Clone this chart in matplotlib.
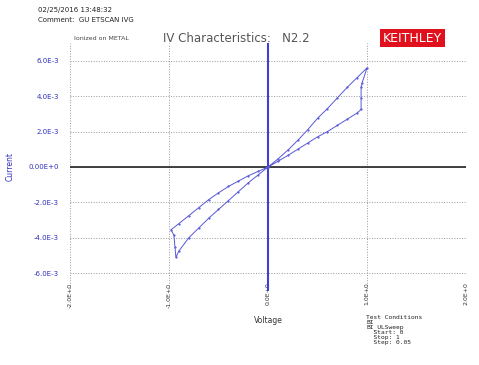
import matplotlib.pyplot as plt, numpy as np

# sweep: 0 -> 1 V -> 0 -> -1 V -> 0, current in A
voltage = [0.0, 0.1, 0.2, 0.3, 0.4, 0.5, 0.6, 0.7, 0.8, 0.9, 1.0,
           0.95, 0.94, 0.94, 0.94,
           0.9, 0.8, 0.7, 0.6, 0.5, 0.4, 0.3, 0.2, 0.1, 0.0,
           -0.1, -0.2, -0.3, -0.4, -0.5, -0.6, -0.7, -0.8, -0.9, -0.93,
           -0.94, -0.95, -0.98,
           -0.9, -0.8, -0.7, -0.6, -0.5, -0.4, -0.3, -0.2, -0.1, 0.0]
current_mA = [0.0, 0.45, 0.95, 1.5, 2.1, 2.75, 3.3, 3.9, 4.5, 5.05, 5.6,
              4.75, 4.5, 3.9, 3.25,
              3.05, 2.7, 2.35, 2.0, 1.7, 1.35, 1.0, 0.65, 0.32, 0.0,
              -0.45, -0.9, -1.4, -1.9, -2.4, -2.9, -3.45, -4.0, -4.75, -5.1,
              -4.5, -3.85, -3.55,
              -3.2, -2.75, -2.3, -1.85, -1.46, -1.1, -0.8, -0.5, -0.25, 0.0]
current = np.array(current_mA) * 1e-3

x_ticks = [-2.0, -1.0, 0.0, 1.0, 2.0]
x_labels = ["-2.0E+0", "-1.0E+0", "0.0E+0", "1.0E+0", "2.0E+0"]
y_ticks = [6e-3, 4e-3, 2e-3, 0.0, -2e-3, -4e-3, -6e-3]
y_labels = ["6.0E-3", "4.0E-3", "2.0E-3", "0.00E+0", "-2.0E-3", "-4.0E-3", "-6.0E-3"]

fig = plt.figure(figsize=(4.79, 3.65), dpi=100)
ax = fig.add_axes([0.146, 0.203, 0.827, 0.679])
ax.set_xlim(-2, 2)
ax.set_ylim(-7e-3, 7e-3)

for s in ax.spines.values():
    s.set_visible(False)

ax.set_xticks(x_ticks)
ax.set_xticklabels(x_labels, rotation=90, fontsize=4.5, color='#333333')
ax.set_yticks(y_ticks)
ax.set_yticklabels(y_labels, fontsize=5, color='#3030c0')
ax.tick_params(axis='x', length=0, pad=-6)
ax.tick_params(axis='y', length=0, pad=8)
ax.grid(True, linestyle=':', color='#999999', linewidth=0.7)

ax.axhline(0, color='#222222', linewidth=1.2)
ax.axvline(0, color='#4040d0', linewidth=1.5)

ax.plot(voltage, current, color='#5858d8', linewidth=0.7, marker='.', markersize=1.2)

ax.set_ylabel("Current", fontsize=5.5, color='#3030c0', labelpad=10)
ax.set_xlabel("Voltage", fontsize=5.5, color='#333333', labelpad=6)

fig.text(0.08, 0.972, "02/25/2016 13:48:32", fontsize=5, color='#222222', va='center')
fig.text(0.08, 0.945, "Comment:  GU ETSCAN IVG", fontsize=5, color='#222222', va='center')
fig.text(0.155, 0.895, "Ionized on METAL", fontsize=4.5, color='#444444', va='center')
fig.text(0.34, 0.895, "IV Characteristics:   N2.2", fontsize=8.5, color='#555555', va='center')
fig.text(0.861, 0.895, "KEITHLEY", fontsize=9, color='white', va='center', ha='center',
         bbox=dict(boxstyle='square,pad=0.2', facecolor='#e0101c', edgecolor='none'))

fig.text(0.765, 0.138, "Test Conditions\nBI\nBI_ULSweep\n  Start: 0\n  Stop: 1\n  Step: 0.05",
         fontsize=4.5, family='monospace', color='#222222', va='top', linespacing=1.0)

fig.savefig("out.png", dpi=100)
